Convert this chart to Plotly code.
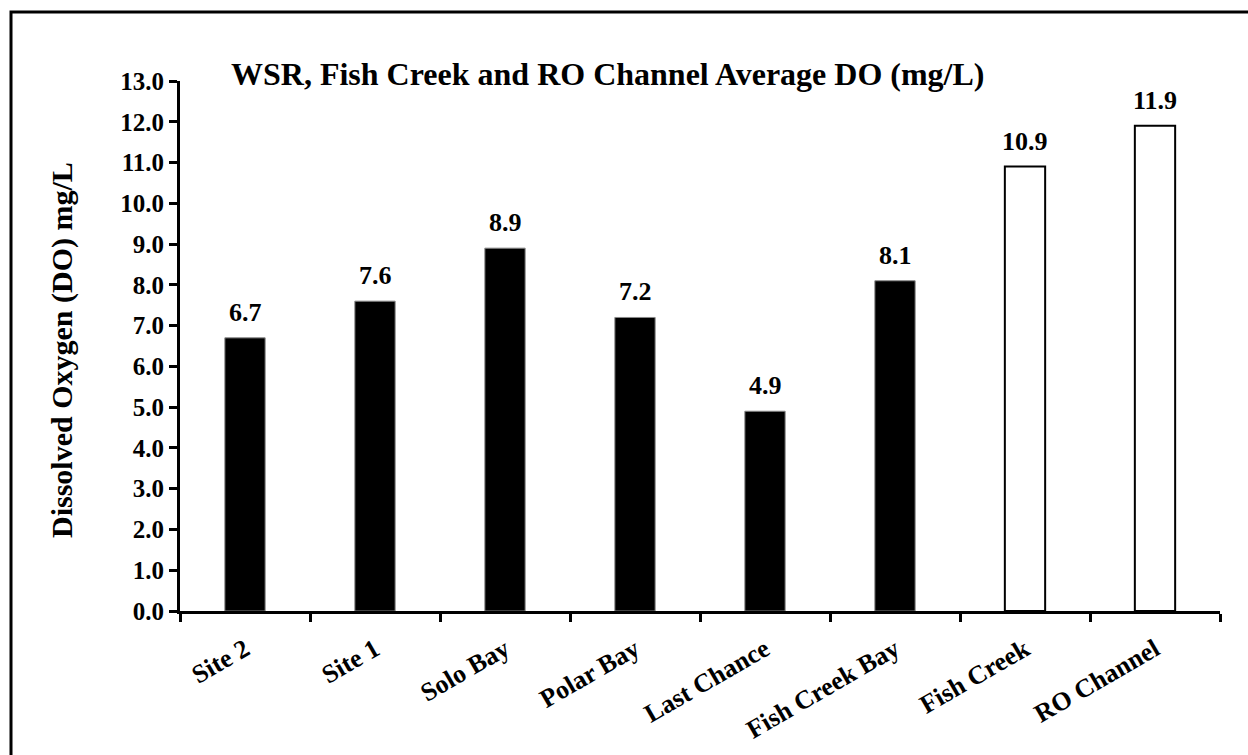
import plotly.graph_objects as go

# Average dissolved oxygen by site
sites = ["Site 2", "Site 1", "Solo Bay", "Polar Bay", "Last Chance",
         "Fish Creek Bay", "Fish Creek", "RO Channel"]
do_mg_l = [6.7, 7.6, 8.9, 7.2, 4.9, 8.1, 10.9, 11.9]
# WSR sites drawn solid, Fish Creek / RO Channel drawn hollow
wsr_sites = ["Site 2", "Site 1", "Solo Bay", "Polar Bay", "Last Chance", "Fish Creek Bay"]
y_ticks = [i for i in range(0, 14)]
y_tick_labels = [f"{v:.1f}" for v in y_ticks]

title_text = "WSR, Fish Creek and RO Channel Average DO (mg/L)"
y_title = "Dissolved Oxygen (DO) mg/L"

FONT = "Liberation Serif, Times New Roman, serif"
W, H = 1248, 755
L, R, T, B = 180, 28, 81, 144
pw, ph = W - L - R, H - T - B


def px_x(x):
    return (x - L) / pw


def px_y(y):
    return (H - B - y) / ph


fill = ["black" if s in wsr_sites else "white" for s in sites]
outline = ["#888888" if s in wsr_sites else "black" for s in sites]
outline_w = [1 if s in wsr_sites else 2 for s in sites]

fig = go.Figure(go.Bar(
    x=sites, y=do_mg_l, width=0.31,
    marker=dict(color=fill, line=dict(color=outline, width=outline_w)),
    hoverinfo="x+y",
))

for s, v in zip(sites, do_mg_l):
    fig.add_annotation(x=s, y=v, text=f"<b>{v:.1f}</b>", showarrow=False,
                       yanchor="bottom", yshift=9,
                       font=dict(family=FONT, size=26, color="black"))

# chart title
fig.add_annotation(xref="paper", yref="paper", x=px_x(229), y=px_y(74),
                   xanchor="left", yanchor="middle",
                   text=f"<b>{title_text}</b>", showarrow=False,
                   font=dict(family=FONT, size=32, color="black"))

# y-axis title
fig.add_annotation(xref="paper", yref="paper", x=px_x(62), y=px_y(350),
                   xanchor="center", yanchor="middle", textangle=-90,
                   text=f"<b>{y_title}</b>", showarrow=False,
                   font=dict(family=FONT, size=30, color="black"))

# outer frame around the chart
fig.add_shape(type="rect", xref="paper", yref="paper",
              x0=px_x(11), x1=px_x(W + 20),
              y0=px_y(H + 20), y1=px_y(12),
              line=dict(color="black", width=3), layer="above")

fig.update_layout(
    width=W, height=H,
    margin=dict(l=L, r=R, t=T, b=B, autoexpand=False),
    paper_bgcolor="white", plot_bgcolor="white",
    showlegend=False,
    font=dict(family=FONT, color="black"),
)
fig.update_xaxes(
    type="category", showline=True, linecolor="black", linewidth=3,
    ticks="outside", tickson="boundaries", ticklen=8, tickwidth=3, tickcolor="black",
    tickangle=-30, ticklabelstandoff=10, automargin=False,
    tickfont=dict(family=FONT, size=26, color="black", weight="bold"),
    showgrid=False, zeroline=False,
)
fig.update_yaxes(
    range=[0, 13], tickvals=y_ticks, ticktext=y_tick_labels,
    showline=True, linecolor="black", linewidth=3, automargin=False,
    ticks="outside", ticklen=8, tickwidth=3, tickcolor="black",
    tickfont=dict(family=FONT, size=25, color="black", weight="bold"),
    showgrid=False, zeroline=False,
)

fig.write_html("out.html")
